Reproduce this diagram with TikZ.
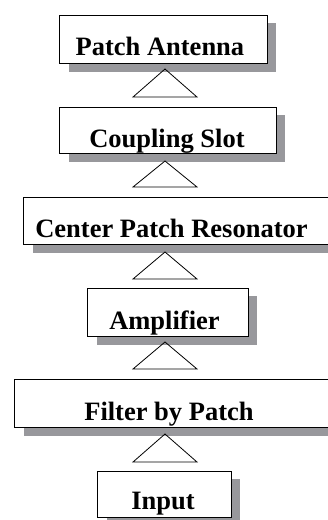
\documentclass[tikz,border=0pt]{standalone}
\usepackage{fontspec}
\setmainfont{Liberation Serif}
\usetikzlibrary{calc,backgrounds}
\definecolor{shadowgray}{HTML}{98989C}
\newcommand\lblfont{\fontsize{26.5}{30}\selectfont\bfseries}
\begin{document}
\begin{tikzpicture}[x=1pt,y=-1pt,
  box/.style={draw=black, line width=0.9pt, fill=white, inner sep=0, anchor=north west},
  lbl/.style={font=\lblfont, anchor=base, inner sep=0},
  tri/.style={draw=black, line width=0.8pt, line join=miter},
  sh/.style={fill=shadowgray}]
\useasboundingbox (0,0) rectangle (328,520);
\clip (0,0) rectangle (328,520);
% boxes
\node[box, minimum width=208pt, minimum height=48pt,
  path picture={\node[lbl] at ($(path picture bounding box.north west)+(100.5,40)$) {Patch Antenna};}]
  (b1) at (59,15) {};
\node[box, minimum width=217pt, minimum height=46pt,
  path picture={\node[lbl] at ($(path picture bounding box.north west)+(107.5,40)$) {Coupling Slot};}]
  (b2) at (59,107) {};
\node[box, minimum width=312pt, minimum height=47pt,
  path picture={\node[lbl] at ($(path picture bounding box.north west)+(148,40)$) {Center Patch Resonator};}]
  (b3) at (23,197) {};
\node[box, minimum width=161pt, minimum height=48pt,
  path picture={\node[lbl] at ($(path picture bounding box.north west)+(77,41)$) {Amplifier};}]
  (b4) at (87,288) {};
\node[box, minimum width=321pt, minimum height=48pt,
  path picture={\node[lbl] at ($(path picture bounding box.north west)+(154.5,41)$) {Filter by Patch};}]
  (b5) at (14,379) {};
\node[box, minimum width=134pt, minimum height=46pt,
  path picture={\node[lbl] at ($(path picture bounding box.north west)+(65.5,38)$) {Input};}]
  (b6) at (97,471) {};
% shadows
\begin{scope}[on background layer]
  \foreach \b in {b1,b2,b3,b4,b5,b6}
    \fill[sh] ($(\b.north west)+(9.5,8)$) rectangle ($(\b.south east)+(8,8)$);
\end{scope}
% triangles
\coordinate (t1) at (165,69);
\coordinate (t2) at (165,161);
\coordinate (t3) at (165,252);
\coordinate (t4) at (165,342);
\coordinate (t5) at (165,434);
\draw[tri] (t1) -- (197,97) -- (133,97) -- cycle;
\draw[tri] (t2) -- (197,187) -- (133,187) -- cycle;
\draw[tri] (t3) -- (197,279) -- (133,279) -- cycle;
\draw[tri] (t4) -- (197,369) -- (133,369) -- cycle;
\draw[tri] (t5) -- (197,462) -- (133,462) -- cycle;
\end{tikzpicture}
\end{document}
